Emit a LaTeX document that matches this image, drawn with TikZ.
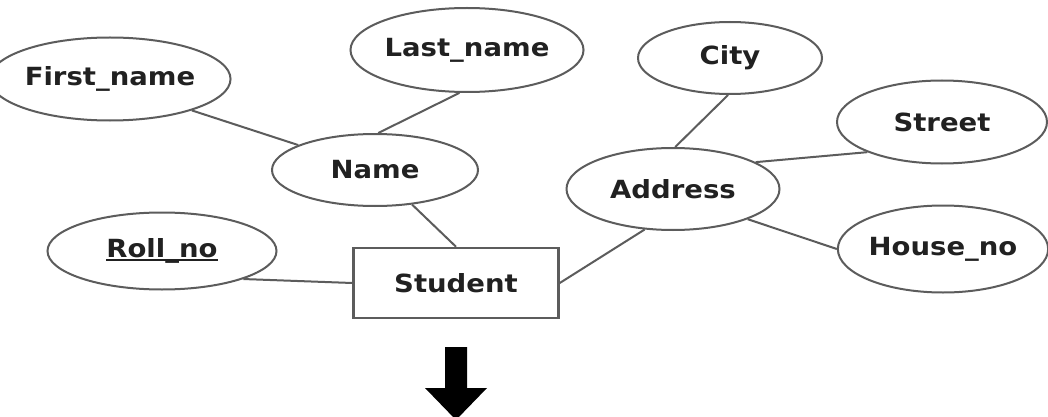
\documentclass[tikz,border=0pt]{standalone}
\usepackage{fontspec}
\setmainfont{DejaVu Sans}[FakeStretch=1.1]
\usepackage{tikz}
\usetikzlibrary{positioning,shapes,arrows.meta}
\definecolor{erline}{rgb}{0.36,0.36,0.36}
\definecolor{ertext}{rgb}{0.13,0.13,0.13}
\tikzstyle{atr}=[%
      ellipse, draw=erline, line width=2pt, fill=white, text=ertext,
      inner sep=0pt, font=\fontsize{25}{30}\selectfont\bfseries
]
\tikzstyle{ent}=[%
      rectangle, draw=erline, line width=2.5pt, fill=white, text=ertext,
      minimum width=205, minimum height=70, inner sep=0pt,
      font=\fontsize{25}{30}\selectfont\bfseries
]
\newcommand{\keyattr}[1]{\setbox0\hbox{#1}\rlap{\usebox0}\rule[-0.13em]{\wd0}{0.08em}}

\begin{document}
\begin{tikzpicture}[x=1pt, y=-1pt,
    every edge/.style={draw=erline, line width=2pt}
  ]
    \clip (0,0) rectangle (1048,417);
    \fill[white] (0,0) rectangle (1048,417);

    \node[ent]                                          (student) at (456,283) {Student};
    \node[atr, minimum width=206, minimum height=72]    (name)    at (375,170) {Name};
    \node[atr, minimum width=206, minimum height=83]    (first)   at (110,79)  {First\_name};
    \node[atr, minimum width=225, minimum height=84]    (last)    at (467,50)  {Last\_name};
    \node[atr, minimum width=229, minimum height=77]    (roll)    at (162,251) {\keyattr{Roll\_no}};
    \node[atr, minimum width=213, minimum height=82]    (address) at (673,189) {Address};
    \node[atr, minimum width=184, minimum height=72]    (city)    at (730,58)  {City};
    \node[atr, minimum width=210, minimum height=83]    (street)  at (942,122) {Street};
    \node[atr, minimum width=210, minimum height=87]    (house)   at (943,249) {House\_no};

    \path (first.-21)    edge (name.162)
          (last.-100)    edge (name.85)
          (name.-43)     edge (student.north)
          (roll.-19)     edge (student.west)
          (student.east) edge (address.-125)
          (address.87)   edge (city.-93)
          (address.18)   edge (street.-158)
          (address.-22)  edge (house.west)
    ;

    % down arrow
    \fill[black] (445,347) -- (467,347) -- (467,388) -- (487,388) -- (456,420)
                 -- (425,388) -- (445,388) -- cycle;

  \end{tikzpicture}
\end{document}
